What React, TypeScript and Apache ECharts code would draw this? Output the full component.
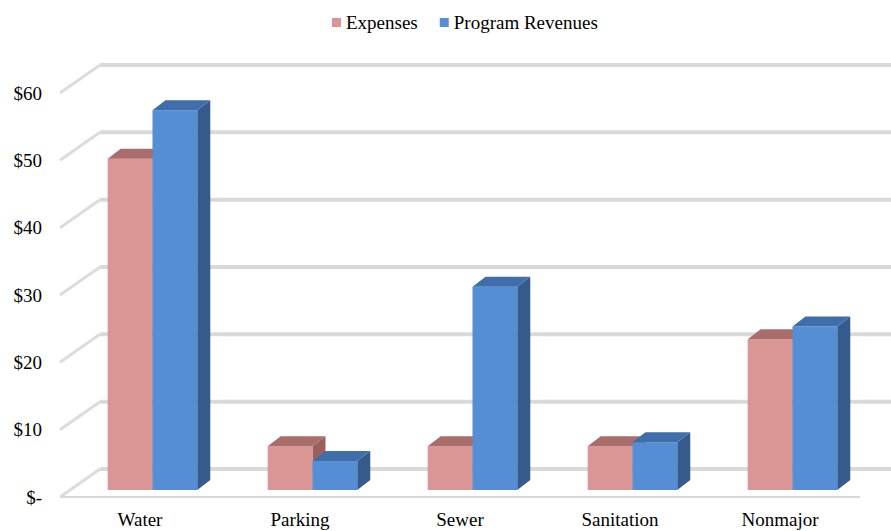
import React, { useEffect, useRef } from 'react';
import * as echarts from 'echarts';

const categories = ['Water', 'Parking', 'Sewer', 'Sanitation', 'Nonmajor'];
const expenses = [49.2, 6.5, 6.5, 6.5, 22.4];
const revenues = [56.4, 4.3, 30.2, 7.1, 24.3];
const yTicks = [0, 10, 20, 30, 40, 50, 60];
const seriesNames = ['Expenses', 'Program Revenues'];

const FONT = 'Liberation Serif';
const WALL_DX = 40;
const WALL_DY = -28;
const BAR_DX = 13;
const BAR_DY = -10;
const BAR_OFF_Y = -7;

const redColors = { front: '#D99694', top: '#A96E6C', side: '#9A605E' };
const blueColors = { front: '#558ED5', top: '#3F6EAB', side: '#355B8C' };

function makeBarRenderer(pos: number, colors: { front: string; top: string; side: string }) {
  return (params: any, api: any) => {
    const idx = api.value(0);
    const val = api.value(1);
    const base = api.coord([idx, 0]);
    const top = api.coord([idx, val]);
    const band = api.size([1, 0])[0];
    const w = band * 0.28;
    const cx = base[0] + band * 0.078;
    const x0 = pos === 0 ? cx - w : cx;
    const x1 = x0 + w;
    const yb = base[1] + BAR_OFF_Y;
    const yt = top[1] + BAR_OFF_Y;
    return {
      type: 'group',
      children: [
        {
          type: 'polygon',
          shape: { points: [[x1, yt], [x1 + BAR_DX, yt + BAR_DY], [x1 + BAR_DX, yb + BAR_DY], [x1, yb]] },
          style: { fill: colors.side },
        },
        {
          type: 'rect',
          shape: { x: x0, y: yt, width: w, height: yb - yt },
          style: { fill: colors.front },
        },
        {
          type: 'polygon',
          shape: { points: [[x0, yt], [x1, yt], [x1 + BAR_DX, yt + BAR_DY], [x0 + BAR_DX, yt + BAR_DY]] },
          style: { fill: colors.top },
        },
      ],
    };
  };
}

function gridRenderer(params: any, api: any) {
  const v = api.value(1);
  const cs = params.coordSys;
  const yf = api.coord([0, v])[1];
  const left = cs.x;
  const right = cs.x + cs.width;
  const children: any[] = [
    {
      type: 'line',
      shape: { x1: left + WALL_DX, y1: yf + WALL_DY, x2: right + WALL_DX, y2: yf + WALL_DY },
      style: { stroke: '#D9D9D9', lineWidth: 4 },
    },
    {
      type: 'line',
      shape: { x1: left, y1: yf, x2: left + WALL_DX, y2: yf + WALL_DY },
      style: { stroke: '#DCDCDC', lineWidth: 3 },
    },
  ];
  if (v === 0) {
    children.push({
      type: 'line',
      shape: { x1: left, y1: yf, x2: right, y2: yf },
      style: { stroke: '#D9D9D9', lineWidth: 2 },
    });
  }
  return { type: 'group', children };
}

export default function App() {
  const ref = useRef<HTMLDivElement>(null);
  useEffect(() => {
    if (!ref.current) return;
    const chart = echarts.init(ref.current, undefined, { renderer: 'svg' });
    chart.setOption({
      animation: false,
      legend: {
        top: 8,
        left: 327,
        icon: 'rect',
        itemWidth: 9,
        itemHeight: 9,
        itemGap: 22,
        data: seriesNames,
        textStyle: { fontFamily: FONT, fontSize: 19, color: '#000' },
      },
      grid: { left: 60, right: 31, top: 93, bottom: 34 },
      xAxis: {
        type: 'category',
        data: categories,
        axisLine: { show: false },
        axisTick: { show: false },
        axisLabel: { fontFamily: FONT, fontSize: 19, color: '#000', margin: 13 },
        splitLine: { show: false },
      },
      yAxis: {
        type: 'value',
        min: 0,
        max: 60,
        interval: 10,
        axisLine: { show: false },
        axisTick: { show: false },
        splitLine: { show: false },
        axisLabel: {
          fontFamily: FONT,
          fontSize: 19,
          color: '#000',
          margin: 18,
          formatter: (v: number) => (v === 0 ? '$-' : '$' + v),
        },
      },
      series: [
        {
          type: 'custom',
          name: 'grid',
          renderItem: gridRenderer,
          data: yTicks.map((v) => [0, v]),
          z: 1,
          silent: true,
        },
        {
          type: 'custom',
          name: seriesNames[0],
          renderItem: makeBarRenderer(0, redColors),
          itemStyle: { color: redColors.front },
          data: expenses.map((v, i) => [i, v]),
          z: 2,
        },
        {
          type: 'custom',
          name: seriesNames[1],
          renderItem: makeBarRenderer(1, blueColors),
          itemStyle: { color: blueColors.front },
          data: revenues.map((v, i) => [i, v]),
          z: 3,
        },
      ],
    });
    return () => chart.dispose();
  }, []);
  return (
    <div
      ref={ref}
      style={{ position: 'fixed', left: 0, top: 0, width: 891, height: 531, background: '#fff' }}
    />
  );
}
